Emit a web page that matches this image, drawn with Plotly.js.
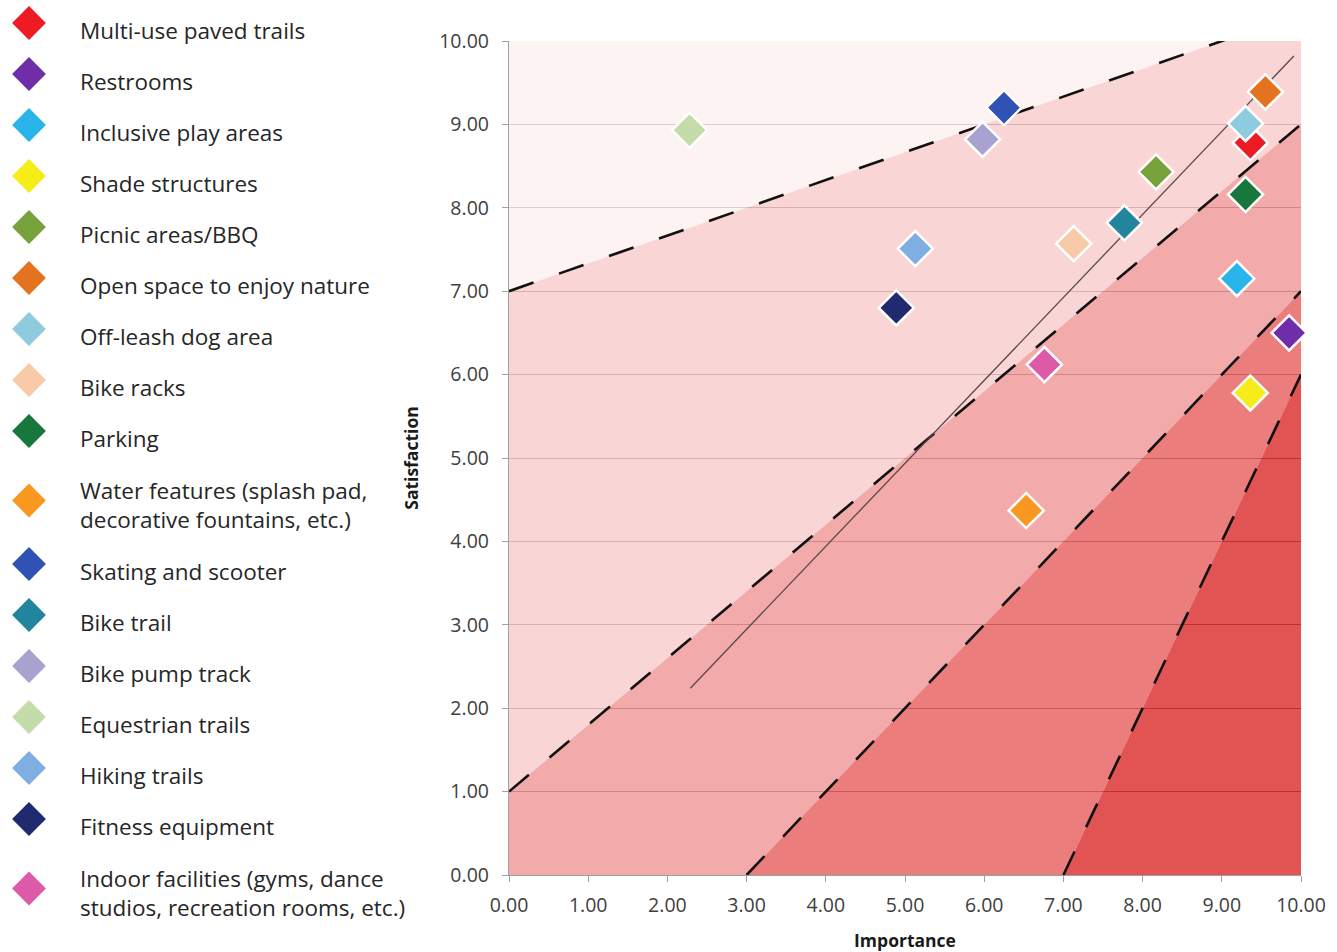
<!DOCTYPE html>
<html>
<head>
<meta charset="utf-8">
<script src="https://cdn.plot.ly/plotly-3.0.1.min.js"></script>
<style>
  html, body { margin: 0; padding: 0; background: #ffffff; }
  #chart { width: 1337px; height: 952px; }
</style>
</head>
<body>
<div id="chart"></div>
<script>
// ---------------- data ----------------
const categories = [
  "Multi-use paved trails",
  "Restrooms",
  "Inclusive play areas",
  "Shade structures",
  "Picnic areas/BBQ",
  "Open space to enjoy nature",
  "Off-leash dog area",
  "Bike racks",
  "Parking",
  "Water features (splash pad,<br>decorative fountains, etc.)",
  "Skating and scooter",
  "Bike trail",
  "Bike pump track",
  "Equestrian trails",
  "Hiking trails",
  "Fitness equipment",
  "Indoor facilities (gyms, dance<br>studios, recreation rooms, etc.)"
];
const importance   = [9.36, 9.85, 9.19, 9.36, 8.17, 9.55, 9.30, 7.13, 9.30, 6.53, 6.25, 7.77, 5.98, 2.28, 5.13, 4.89, 6.76];
const satisfaction = [8.78, 6.50, 7.15, 5.78, 8.43, 9.39, 9.01, 7.57, 8.16, 4.37, 9.20, 7.82, 8.82, 8.93, 7.51, 6.80, 6.12];
const markerColors = [
  "#ed1c24", "#6f2da8", "#29b4ea", "#f5ec1a", "#77a13a", "#e4731f", "#8fcbdf", "#f8caa8",
  "#17773d", "#f89820", "#2f52b4", "#23849e", "#a8a2d0", "#c4dcaa", "#7faee0", "#202a6e", "#dc5aa8"
];

// dashed boundary lines: satisfaction = slope * importance + intercept
const boundarySlopes     = [1/3, 0.8, 1, 2];
const boundaryIntercepts = [7, 1, -3, -14];

// thin solid reference line
const trendX = [2.29, 9.91];
const trendY = [2.24, 9.82];

// zone colours from top-left (lightest) to bottom-right (darkest)
const zoneColors = ["rgba(253,238,238,0.7)", "rgba(247,195,195,0.7)", "rgba(237,134,134,0.7)",
                    "rgba(228,70,70,0.7)", "rgba(214,12,12,0.7)"];

const tickVals = [0,1,2,3,4,5,6,7,8,9,10];

// ---------------- geometry helpers ----------------
const AX_MIN = 0, AX_MAX = 10;
function clipPoly(poly, f) {
  const out = [];
  for (let i = 0; i < poly.length; i++) {
    const cur = poly[i], prev = poly[(i + poly.length - 1) % poly.length];
    const fc = f(cur), fp = f(prev);
    const inter = () => {
      const t = fp / (fp - fc);
      return [prev[0] + t * (cur[0] - prev[0]), prev[1] + t * (cur[1] - prev[1])];
    };
    if (fc >= 0) {
      if (fp < 0) out.push(inter());
      out.push(cur);
    } else if (fp >= 0) {
      out.push(inter());
    }
  }
  return out;
}
const above = k => p => p[1] - (boundarySlopes[k] * p[0] + boundaryIntercepts[k]);
const below = k => p => (boundarySlopes[k] * p[0] + boundaryIntercepts[k]) - p[1];

const traces = [];
const square = [[AX_MIN, AX_MIN], [AX_MAX, AX_MIN], [AX_MAX, AX_MAX], [AX_MIN, AX_MAX]];
for (let z = 0; z <= boundarySlopes.length; z++) {
  let poly = square.slice();
  if (z > 0) poly = clipPoly(poly, below(z - 1));
  if (z < boundarySlopes.length) poly = clipPoly(poly, above(z));
  if (poly.length < 3) continue;
  traces.push({
    type: "scatter", mode: "lines",
    x: poly.map(p => p[0]).concat([poly[0][0]]),
    y: poly.map(p => p[1]).concat([poly[0][1]]),
    fill: "toself", fillcolor: zoneColors[z],
    line: { width: 0, color: "rgba(0,0,0,0)" },
    hoverinfo: "skip", showlegend: false
  });
}

// dashed boundary lines
boundarySlopes.forEach((m, k) => {
  const b = boundaryIntercepts[k];
  const x0 = Math.max(AX_MIN, (AX_MIN - b) / m);
  const x1 = Math.min(AX_MAX, (AX_MAX + 0.06 - b) / m);
  traces.push({
    type: "scatter", mode: "lines",
    x: [x0, x1], y: [m * x0 + b, m * x1 + b],
    line: { color: "#111111", width: 2.6, dash: "26px,27px" },
    hoverinfo: "skip", showlegend: false, cliponaxis: false
  });
});

// thin solid reference line
traces.push({
  type: "scatter", mode: "lines", x: trendX, y: trendY,
  line: { color: "#5b4848", width: 1.3 },
  hoverinfo: "skip", showlegend: false
});

// data points
traces.push({
  type: "scatter", mode: "markers",
  x: importance, y: satisfaction,
  text: categories.map(c => c.replace("<br>", " ")),
  hovertemplate: "%{text}<br>Importance: %{x:.2f}<br>Satisfaction: %{y:.2f}<extra></extra>",
  marker: { symbol: "diamond", size: 27, color: markerColors, line: { color: "#ffffff", width: 2.5 } },
  showlegend: false, cliponaxis: false
});

// ---------------- manual legend panel (pixel-unit axes) ----------------
const W = 1337, H = 952;
const legendTop = 7.5, rowH = 51, extraLineH = 31;
const legendCenters = [], legendMarkerY = [];
let cursor = legendTop;
categories.forEach(c => {
  const nLines = c.split("<br>").length;
  const h = rowH + (nLines - 1) * extraLineH;
  const center = cursor + h / 2;
  legendCenters.push(center);
  legendMarkerY.push(nLines > 1 ? center - 7 : center - 10);
  cursor += h;
});
traces.push({
  type: "scatter", mode: "markers", xaxis: "x2", yaxis: "y2",
  x: categories.map(() => 29), y: legendMarkerY,
  marker: { symbol: "diamond", size: 26, color: markerColors, line: { width: 0 } },
  hoverinfo: "skip", showlegend: false, cliponaxis: false
});
traces.push({
  type: "scatter", mode: "text", xaxis: "x2", yaxis: "y2",
  x: categories.map(() => 80), y: legendCenters,
  text: categories, textposition: "middle right",
  textfont: { family: "'Open Sans', Lato, sans-serif", size: 22.5, color: "#262626" },
  hoverinfo: "skip", showlegend: false, cliponaxis: false
});

const tickFont = { family: "'Open Sans', Lato, sans-serif", size: 19.5, color: "#404040" };
const titleFont = { family: "'Open Sans', Lato, sans-serif", size: 17.5, color: "#1a1a1a", weight: "bold" };
const layout = {
  width: W, height: H,
  margin: { l: 0, r: 0, t: 0, b: 0, pad: 0 },
  paper_bgcolor: "#ffffff", plot_bgcolor: "rgba(0,0,0,0)",
  showlegend: false,
  xaxis: {
    domain: [509 / W, 1301 / W], range: [AX_MIN, AX_MAX], anchor: "y",
    tickvals: tickVals, tickformat: ".2f",
    ticks: "outside", ticklen: 6, tickcolor: "#a0a0a0", ticklabelstandoff: 6,
    showgrid: false, zeroline: false,
    showline: true, linecolor: "#a0a0a0", linewidth: 1.3,
    tickfont: tickFont, automargin: false,
    title: { text: "Importance", standoff: 18, font: titleFont }
  },
  yaxis: {
    domain: [(H - 875) / H, (H - 41) / H], range: [AX_MIN, AX_MAX], anchor: "x",
    tickvals: tickVals, tickformat: ".2f",
    ticks: "outside", ticklen: 6, tickcolor: "#a0a0a0", ticklabelstandoff: 9,
    showgrid: true, gridcolor: "#888888", gridwidth: 1.3, zeroline: false,
    showline: true, linecolor: "#a0a0a0", linewidth: 1.3,
    tickfont: tickFont, automargin: false,
    title: { text: "Satisfaction", standoff: 16, font: titleFont }
  },
  xaxis2: { domain: [0, 401 / W], range: [0, 401], anchor: "y2", visible: false, fixedrange: true },
  yaxis2: { domain: [0, 1], range: [H, 0], anchor: "x2", visible: false, fixedrange: true }
};

Plotly.newPlot("chart", traces, layout, { displayModeBar: false, responsive: false });
</script>
</body>
</html>
